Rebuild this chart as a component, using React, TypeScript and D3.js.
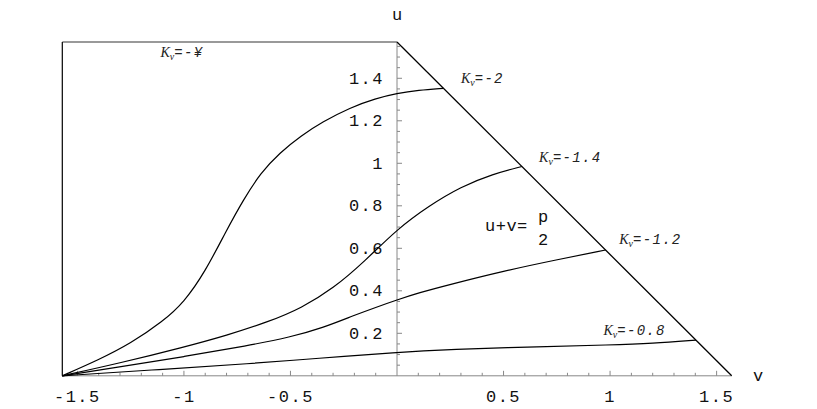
import React from "react";
import * as d3 from "d3";

const HALF_PI = Math.PI / 2;

// Curves: [v, u]
const curveInf: [number, number][] = [
  [-1.571, 0], [-1.4, 0.075], [-1.25, 0.152], [-1.1, 0.255], [-1.0, 0.345],
  [-0.9, 0.49], [-0.8, 0.685], [-0.72, 0.83], [-0.64, 0.955], [-0.55, 1.05],
  [-0.45, 1.13], [-0.35, 1.195], [-0.22, 1.262], [-0.1, 1.305], [0, 1.329],
  [0.1, 1.344], [0.218, 1.353],
];
const curve14: [number, number][] = [
  [-1.571, 0], [-1.3, 0.06], [-1.0, 0.135], [-0.8, 0.19], [-0.6, 0.255],
  [-0.45, 0.318], [-0.3, 0.41], [-0.15, 0.54], [0, 0.69], [0.15, 0.8],
  [0.3, 0.89], [0.45, 0.95], [0.586, 0.985],
];
const curve12: [number, number][] = [
  [-1.571, 0], [-1.3, 0.042], [-1.0, 0.09], [-0.7, 0.142], [-0.5, 0.182],
  [-0.35, 0.225], [-0.2, 0.285], [-0.1, 0.322], [0, 0.357], [0.1, 0.39],
  [0.25, 0.43], [0.5, 0.493], [0.75, 0.546], [0.979, 0.592],
];
const curve08: [number, number][] = [
  [-1.571, 0], [-1.11, 0.03], [-0.688, 0.057], [-0.375, 0.082], [0, 0.111],
  [0.25, 0.124], [0.672, 0.137], [1.0, 0.145], [1.2, 0.152], [1.403, 0.168],
];
const curves = [curveInf, curve14, curve12, curve08];

const xMajor = [-1.5, -1, -0.5, 0.5, 1, 1.5];
const xMajorLabels = ["-1.5", "-1", "-0.5", "0.5", "1", "1.5"];
const yMajor = [0.2, 0.4, 0.6, 0.8, 1, 1.2, 1.4];
const yMajorLabels = ["0.2", "0.4", "0.6", "0.8", "1", "1.2", "1.4"];

const kLabels = ["-¥", "-2", "-1.4", "-1.2", "-0.8"];
const kLabelPos: [number, number][] = [
  [-1.11, 1.501], [0.3, 1.38], [0.667, 1.007], [1.043, 0.62], [0.969, 0.19],
];

const mono = "'Liberation Mono', 'DejaVu Sans Mono', monospace";
const serif = "'Liberation Serif', 'DejaVu Serif', serif";

export default function App() {
  const x = d3.scaleLinear().domain([-HALF_PI, HALF_PI]).range([62.3, 731.7]);
  const y = d3.scaleLinear().domain([0, HALF_PI]).range([375.8, 42]);
  const line = d3
    .line<[number, number]>()
    .x((d) => x(d[0]))
    .y((d) => y(d[1]))
    .curve(d3.curveBasis);

  const xMinor: number[] = [];
  for (let i = -15; i <= 15; i++) if (i !== 0) xMinor.push(i / 10);
  const yMinor: number[] = [];
  for (let i = 1; i <= 31; i++) yMinor.push(i / 20);

  const axisColor = "#888";
  return (
    <svg
      width={817}
      height={409}
      style={{ position: "absolute", left: 0, top: 0, background: "#fff" }}
    >
      <line x1={x(-HALF_PI)} x2={x(HALF_PI)} y1={y(0)} y2={y(0)} stroke={axisColor} strokeWidth={1} />
      <line x1={x(0)} x2={x(0)} y1={y(0)} y2={y(HALF_PI)} stroke={axisColor} strokeWidth={1} />
      {xMinor.map((v, i) => {
        const major = xMajor.some((m) => Math.abs(m - v) < 1e-6);
        return (
          <line key={"xt" + i} x1={x(v)} x2={x(v)} y1={y(0)} y2={y(0) - (major ? 5 : 3)} stroke={axisColor} />
        );
      })}
      {yMinor.map((u, i) => {
        const major = yMajor.some((m) => Math.abs(m - u) < 1e-6);
        return (
          <line key={"yt" + i} x1={x(0)} x2={x(0) + (major ? 5 : 3)} y1={y(u)} y2={y(u)} stroke={axisColor} />
        );
      })}
      {xMajor.map((v, i) => (
        <text key={"xl" + i} x={x(v)} y={y(0) + 26} textAnchor="middle" fontFamily={mono} fontSize={17} letterSpacing={1.5} fill="#111">
          {xMajorLabels[i]}
        </text>
      ))}
      {yMajor.map((u, i) => (
        <text key={"yl" + i} x={x(0) - 13} y={y(u) + 5.5} textAnchor="end" fontFamily={mono} fontSize={17} letterSpacing={1.5} fill="#111">
          {yMajorLabels[i]}
        </text>
      ))}
      <text x={x(0)} y={20} textAnchor="middle" fontFamily={mono} fontSize={17} fill="#111">u</text>
      <text x={753} y={381} fontFamily={mono} fontSize={17} fill="#111">v</text>

      <line x1={x(-HALF_PI)} x2={x(0)} y1={y(HALF_PI)} y2={y(HALF_PI)} stroke="#777" strokeWidth={1.6} />
      <line x1={x(-HALF_PI)} x2={x(-HALF_PI)} y1={y(0)} y2={y(HALF_PI)} stroke="#000" strokeWidth={1.2} />
      <line x1={x(0)} x2={x(HALF_PI)} y1={y(HALF_PI)} y2={y(0)} stroke="#000" strokeWidth={1.3} />

      {curves.map((c, i) => (
        <path key={"c" + i} d={line(c) || ""} fill="none" stroke="#000" strokeWidth={1.2} />
      ))}

      {kLabels.map((k, i) => (
        <text key={"k" + i} x={x(kLabelPos[i][0])} y={y(kLabelPos[i][1])} fill="#222" fontSize={14} fontStyle="italic">
          <tspan fontFamily={serif}>K</tspan>
          <tspan fontFamily={serif} fontSize={10} dy={3}>v</tspan>
          <tspan fontFamily={mono} dy={-3} letterSpacing={1.3}>{"=" + k}</tspan>
        </text>
      ))}

      <text x={485} y={231} fontFamily={mono} fontSize={17} fill="#111" letterSpacing={0.5}>u+v=</text>
      <text x={538} y={222} fontFamily={mono} fontSize={17} fill="#111">p</text>
      <text x={538} y={245} fontFamily={mono} fontSize={17} fill="#111">2</text>
    </svg>
  );
}
